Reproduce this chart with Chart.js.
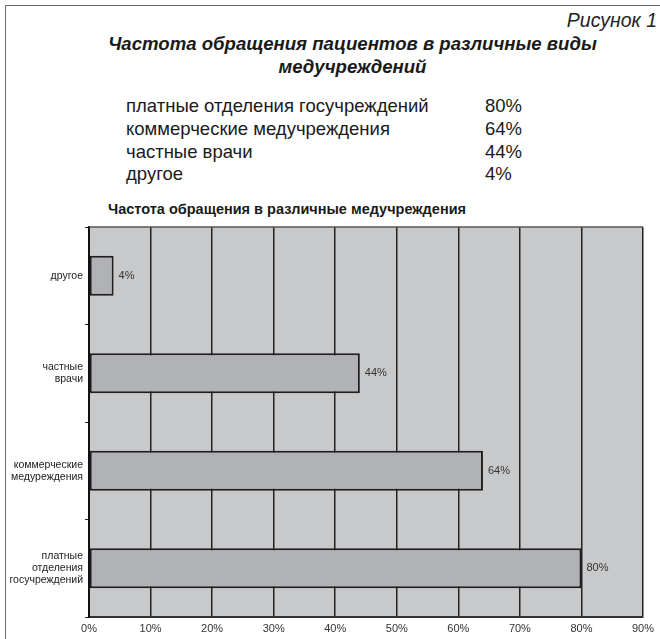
<!DOCTYPE html>
<html>
<head>
<meta charset="utf-8">
<script src="https://cdn.jsdelivr.net/npm/chart.js@4/dist/chart.umd.min.js"></script>
<style>
  html, body { margin: 0; padding: 0; background: #fff; }
  body { width: 660px; height: 639px; position: relative; overflow: hidden; font-family: "Liberation Sans", Arial, sans-serif; color: #1a1a1a; }
  #frame { position: absolute; left: 5px; top: 5px; width: 670px; height: 660px; border-left: 1.5px solid #6e6e6e; border-top: 1.5px solid #6e6e6e; }
  .t { position: absolute; white-space: nowrap; line-height: 1; }
  #fig { right: 3px; top: 11px; font-size: 19.5px; font-style: italic; color: #222; }
  .title { left: 0; width: 705px; text-align: center; font-size: 18.6px; font-style: italic; font-weight: bold; }
  .li { font-size: 18.5px; }
  #ctitle { left: 108px; top: 202px; font-size: 14.5px; font-weight: bold; }
  #wrap { position: absolute; left: 0; top: 0; width: 660px; height: 639px; }
</style>
</head>
<body>
<div id="frame"></div>
<div class="t" id="fig">Рисунок 1</div>
<div class="t title" style="top:34.5px">Частота обращения пациентов в различные виды</div>
<div class="t title" style="top:57.5px">медучреждений</div>
<div id="list"></div>
<div class="t" id="ctitle">Частота обращения в различные медучреждения</div>
<div id="wrap"><canvas id="c" width="660" height="639"></canvas></div>
<script>
// Summary list (header)
const listNames = ['платные отделения госучреждений', 'коммерческие медучреждения', 'частные врачи', 'другое'];
const listValues = ['80%', '64%', '44%', '4%'];

// Chart data (top to bottom)
const categories = [
  'другое',
  ['частные', 'врачи'],
  ['коммерческие', 'медуреждения'],
  ['платные', 'отделения', 'госучреждений']
];
const values = [4, 44, 64, 80];
const xTicks = [0, 10, 20, 30, 40, 50, 60, 70, 80, 90];

const list = document.getElementById('list');
const baselines = [113, 136, 158.5, 181];
listNames.forEach((n, i) => {
  const top = baselines[i] - 0.8465 * 18.5;
  const a = document.createElement('div');
  a.className = 't li'; a.style.left = '126px'; a.style.top = top + 'px'; a.textContent = n;
  const b = document.createElement('div');
  b.className = 't li'; b.style.left = '485px'; b.style.top = top + 'px'; b.textContent = listValues[i];
  list.appendChild(a); list.appendChild(b);
});

const bgPlugin = {
  id: 'bg',
  beforeDraw(chart) {
    const { ctx, chartArea: a } = chart;
    ctx.save();
    ctx.fillStyle = '#c8c9cb';
    ctx.fillRect(a.left, a.top, a.right - a.left, a.bottom - a.top);
    ctx.restore();
  },
  afterDraw(chart) {
    const { ctx, chartArea: a } = chart;
    ctx.save();
    ctx.strokeStyle = '#555';
    ctx.lineWidth = 1.5;
    ctx.beginPath();
    ctx.moveTo(a.left, a.top);
    ctx.lineTo(a.right, a.top);
    ctx.stroke();
    ctx.restore();
  }
};

const labelPlugin = {
  id: 'vals',
  afterDatasetsDraw(chart) {
    const { ctx } = chart;
    const meta = chart.getDatasetMeta(0);
    ctx.save();
    ctx.font = '11px "Liberation Sans", Arial, sans-serif';
    ctx.fillStyle = '#333';
    ctx.textBaseline = 'middle';
    ctx.textAlign = 'left';
    meta.data.forEach((el, i) => {
      ctx.fillText(values[i] + '%', el.x + 5, el.y);
    });
    ctx.restore();
  }
};

new Chart(document.getElementById('c'), {
  type: 'bar',
  data: {
    labels: categories,
    datasets: [{
      data: values,
      backgroundColor: '#b1b2b5',
      borderColor: '#1e1e1e',
      borderWidth: 2,
      borderSkipped: false,
      categoryPercentage: 1,
      barPercentage: 0.41
    }]
  },
  options: {
    indexAxis: 'y',
    responsive: false,
    animation: false,
    layout: { padding: { top: 227, left: 0, right: 17, bottom: 0 } },
    plugins: { legend: { display: false }, tooltip: { enabled: false }, title: { display: false } },
    scales: {
      x: {
        min: 0, max: 90,
        afterBuildTicks(scale) { scale.ticks = xTicks.map(v => ({ value: v })); },
        afterFit(scale) { scale.height = 22; },
        grid: { color: '#222', lineWidth: 1.5, drawTicks: false },
        border: { color: '#333', width: 2 },
        ticks: {
          padding: 5,
          color: '#333',
          font: { family: '"Liberation Sans", Arial, sans-serif', size: 11 },
          callback: v => v + '%'
        }
      },
      y: {
        afterFit(scale) { scale.width = 89; },
        grid: { drawOnChartArea: false, color: '#222', lineWidth: 1, tickLength: 4, offset: true },
        border: { color: '#111', width: 2 },
        ticks: {
          padding: 2,
          color: '#222',
          font: { family: '"Liberation Sans", Arial, sans-serif', size: 10.5, lineHeight: 1.15 }
        }
      }
    }
  },
  plugins: [bgPlugin, labelPlugin]
});
</script>
</body>
</html>
